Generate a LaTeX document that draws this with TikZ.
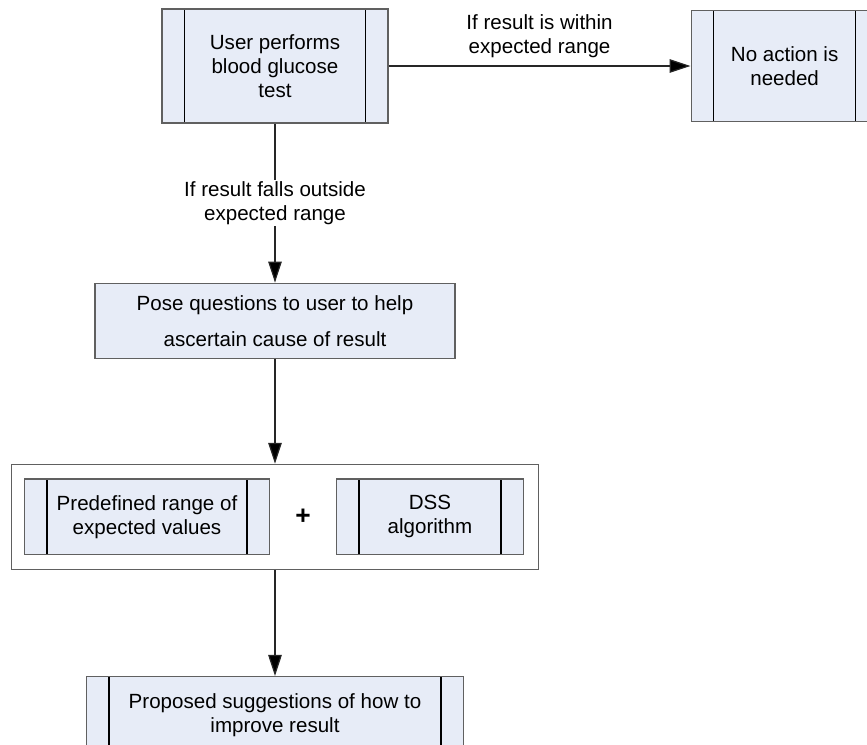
\documentclass[tikz,border=0pt]{standalone}
\usepackage{fontspec}
\setmainfont{Liberation Sans}
\usetikzlibrary{arrows.meta}
\usetikzlibrary{positioning,shapes,calc}
\definecolor{procfill}{RGB}{231,236,247}
\definecolor{procline}{RGB}{96,96,96}
\tikzset{main process/.style={rectangle,fill=procfill,draw=procline,line width=0.7pt,inner sep=0pt,align=center,
    path picture={\draw[black,line width=0.7pt] ([xshift=0.45cm]path picture bounding box.north west) -- ([xshift=0.45cm]path picture bounding box.south west);
    \draw[black,line width=0.7pt] ([xshift=-0.45cm]path picture bounding box.north east) -- ([xshift=-0.45cm]path picture bounding box.south east);}},}
\tikzset{main rectangle/.style={rectangle,fill=procfill,draw=procline,line width=0.7pt,inner sep=0pt,align=center},}
\tikzset{main group/.style={rectangle,fill=white,draw=procline,line width=0.7pt,inner sep=0pt,minimum width=10.54cm,minimum height=2.1cm},}
\tikzset{flow/.style={draw=black!85,line width=0.7pt,-{Triangle[length=0.42cm,width=0.27cm]}},}
\tikzset{flow label/.style={align=center,fill=white,inner sep=1pt},}

\begin{document}
\begin{tikzpicture}[x=0.02cm,y=-0.02cm,font=\fontsize{11.7}{13.7}\selectfont]
    \clip (0,0) rectangle (867,745);
    \node[main process,minimum width=4.52cm,minimum height=2.28cm] (test) at (275,66) {User performs\\blood glucose\\test};
    \node[main process,minimum width=3.74cm,minimum height=2.22cm] (noaction) [right = 6.04cm of test] {No action is\\needed};
    \node[main rectangle,minimum width=7.2cm,minimum height=1.5cm] (pose) [below = 3.18cm of test] {Pose questions to user to help\\[0.24cm]ascertain cause of result};
    \node[main group] (group) [below = 2.1cm of pose] {};
    \node[main process,minimum width=4.9cm,minimum height=1.52cm,anchor=west] (range) at ([xshift=0.26cm]group.west) {Predefined range of\\expected values};
    \node[main process,minimum width=3.74cm,minimum height=1.52cm,anchor=east] (dss) at ([xshift=-0.3cm]group.east) {DSS\\algorithm};
    \node[font=\fontsize{15}{17}\selectfont\bfseries] (plus) at ($(range.east)!0.5!(dss.west)$) {+};
    \node[main process,minimum width=7.54cm,minimum height=1.56cm] (advice) [below = 2.12cm of group] {Proposed suggestions of how to\\improve result};

    \path[flow] (test) edge node[flow label,yshift=0.59cm] {If result is within\\expected range} (noaction);
    \path[flow] (test) edge node[flow label] {If result falls outside\\expected range} (pose);
    \path[flow] (pose) edge node {} (group);
    \path[flow] (group) edge node {} (advice);
\end{tikzpicture}
\end{document}
